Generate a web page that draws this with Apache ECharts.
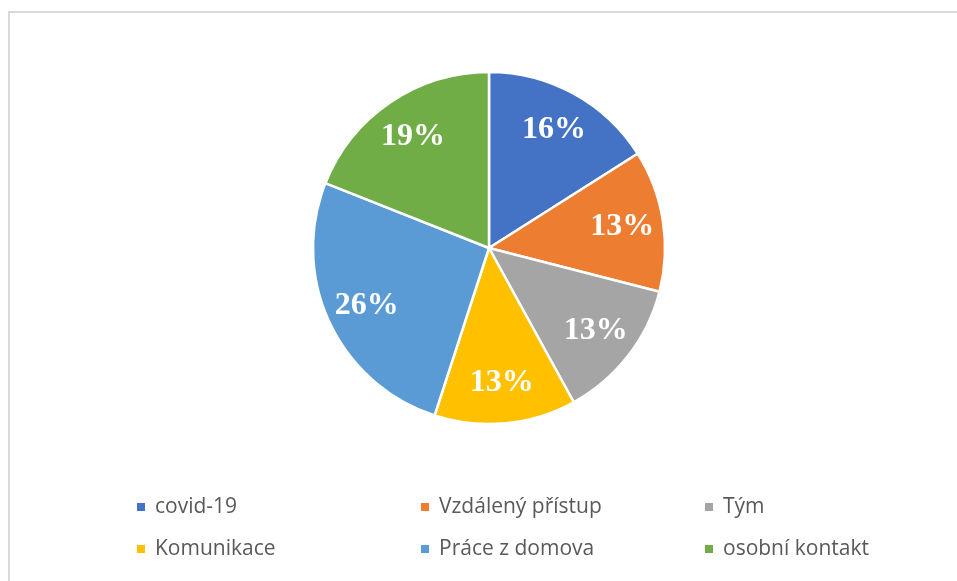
<!DOCTYPE html>
<html>
<head>
<meta charset="utf-8">
<script src="https://cdn.jsdelivr.net/npm/echarts@6/dist/echarts.min.js"></script>
<style>
  html, body { margin: 0; padding: 0; background: #fff; }
  #chart { width: 957px; height: 581px; }
</style>
</head>
<body>
<div id="chart"></div>
<script>
// Topics and their shares (percent)
const categories = ['covid-19', 'Vzdálený přístup', 'Tým', 'Komunikace', 'Práce z domova', 'osobní kontakt'];
const shares = [16, 13, 13, 13, 26, 19];
const colors = ['#4472C4', '#ED7D31', '#A5A5A5', '#FFC000', '#5B9BD5', '#70AD47'];

// Legend columns (two entries each)
const legendColumns = [
  ['covid-19', 'Komunikace'],
  ['Vzdálený přístup', 'Práce z domova'],
  ['Tým', 'osobní kontakt']
];
const legendLeft = [137, 421, 705];

const pieData = categories.map((name, i) => ({
  name: name,
  value: shares[i],
  itemStyle: { color: colors[i] }
}));

const center = [489, 248];
const radius = 176;

const chart = echarts.init(document.getElementById('chart'), null, { renderer: 'canvas' });

chart.setOption({
  animation: false,
  backgroundColor: '#ffffff',
  graphic: [{
    type: 'rect',
    shape: { x: 9, y: 12, width: 1200, height: 1200 },
    style: { fill: 'none', stroke: '#d9d9d9', lineWidth: 2 },
    silent: true
  }],
  legend: legendColumns.map((col, i) => ({
    data: col,
    orient: 'vertical',
    left: legendLeft[i],
    top: 496,
    padding: 0,
    itemWidth: 8,
    itemHeight: 8,
    itemGap: 20,
    icon: 'rect',
    itemStyle: { borderWidth: 0 },
    selectedMode: false,
    textStyle: {
      fontFamily: 'Open Sans',
      fontSize: 21,
      lineHeight: 22,
      color: '#595959',
      padding: [0, 0, 0, 5]
    }
  })),
  series: [
    {
      // slices
      type: 'pie',
      center: center,
      radius: [0, radius],
      startAngle: 90,
      clockwise: true,
      data: pieData,
      itemStyle: { borderColor: '#ffffff', borderWidth: 2.5 },
      label: { show: false },
      labelLine: { show: false },
      emphasis: { disabled: true }
    },
    {
      // percentage labels, placed at three quarters of the radius
      type: 'pie',
      center: center,
      radius: [radius / 2, radius],
      startAngle: 90,
      clockwise: true,
      silent: true,
      data: pieData.map(d => ({ name: d.name, value: d.value })),
      itemStyle: { color: 'rgba(0,0,0,0)', borderWidth: 0 },
      label: {
        show: true,
        position: 'inside',
        formatter: p => p.value + '%',
        fontFamily: 'Liberation Serif',
        fontWeight: 'bold',
        fontSize: 32,
        color: '#ffffff'
      },
      labelLine: { show: false },
      emphasis: { disabled: true }
    }
  ]
});
</script>
</body>
</html>
